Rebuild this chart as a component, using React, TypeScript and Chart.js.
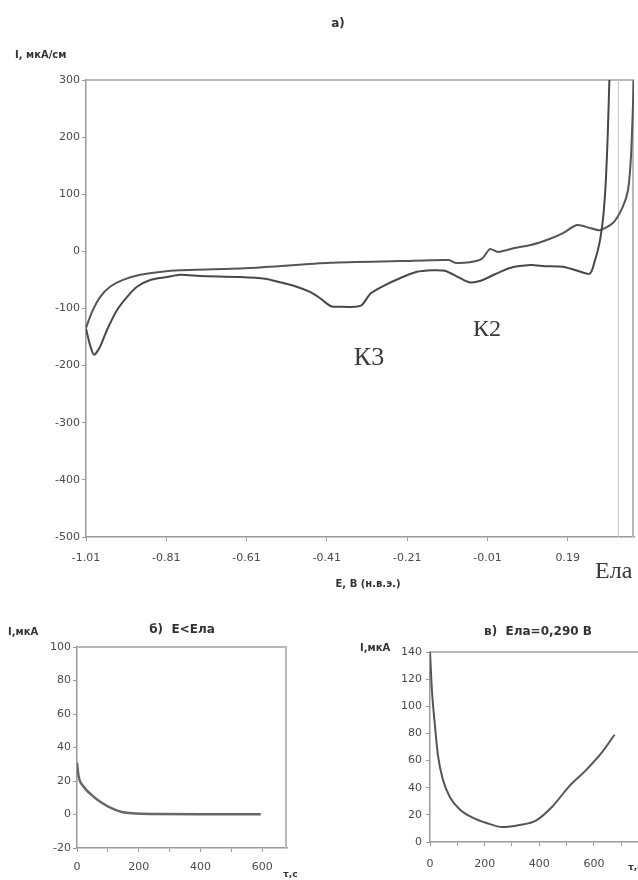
import React, { useEffect, useRef } from "react";
import { Chart, registerables } from "chart.js";

Chart.register(...registerables);

// ---------- Data: main CV chart (а) ----------
const E_TICKS = [-1.01, -0.81, -0.61, -0.41, -0.21, -0.01, 0.19];
const I_MIN = -500;
const I_MAX = 300;
const E_MIN = -1.01;
const E_MAX = 0.355;
const E_LA = 0.315;

// cathodic branch (with K2 and K3 peaks)
const LOWER_E = [0.295, 0.29, 0.285, 0.28, 0.275, 0.268, 0.258, 0.245, 0.21, 0.178, 0.133, 0.098, 0.046, 0.009, -0.029, -0.056, -0.083, -0.116, -0.146, -0.188, -0.228, -0.265, -0.3, -0.323, -0.34, -0.377, -0.4, -0.427, -0.452, -0.489, -0.527, -0.564, -0.626, -0.726, -0.776, -0.808, -0.85, -0.883, -0.908, -0.933, -0.958, -0.975, -0.99, -1.0, -1.01];
const LOWER_I = [335, 212, 125, 73, 41, 11, -15, -39, -33, -27, -26, -24, -29, -40, -52, -54, -45, -34, -33, -36, -47, -59, -73, -94, -97, -97, -96, -82, -71, -61, -54, -48, -45, -43, -41, -45, -50, -62, -80, -103, -138, -167, -181, -164, -135];

// anodic branch
const UPPER_E = [-1.01, -0.995, -0.975, -0.95, -0.918, -0.875, -0.826, -0.776, -0.601, -0.402, -0.228, -0.106, -0.091, -0.054, -0.024, -0.004, 0.016, 0.058, 0.098, 0.146, 0.178, 0.213, 0.245, 0.27, 0.303, 0.327, 0.34, 0.347, 0.352, 0.356];
const UPPER_I = [-134, -106, -80, -62, -50, -41, -36, -33, -29, -20, -17, -15, -20, -19, -13, 4, -1, 6, 11, 22, 32, 46, 41, 37, 50, 78, 107, 160, 247, 335];

// ---------- Data: chart б (E < Ела) ----------
const B_T = [0, 5, 20, 45, 80, 115, 153, 250, 400, 595];
const B_I = [31, 23, 17, 12, 7, 3.5, 1.2, 0.3, 0.2, 0.2];
const B_Y_MIN = -20;
const B_Y_MAX = 100;
const B_T_MAX = 680;

// ---------- Data: chart в (Ела = 0,290 В) ----------
const C_T = [0, 7, 18, 29, 47, 73, 109, 156, 207, 265, 327, 389, 447, 509, 571, 629, 675];
const C_I = [140, 112, 86, 64, 46, 33, 24, 18, 14, 11, 12.5, 16, 26, 41, 53, 66, 79];
const C_Y_MIN = 0;
const C_Y_MAX = 140;
const C_T_MAX = 761;

const TICK_FONT = { family: "DejaVu Sans", size: 11 };
const TICK_COLOR = "#4a4a4a";
const AXIS_COLOR = "#9a9a9a";
const FRAME_COLOR = "#b8b8b8";

type Txt = { text: string; x: number; y: number; font: string; align?: CanvasTextAlign; color?: string; baseline?: CanvasTextBaseline };

function makeDecor(id: string, texts: Txt[], frame: { top: boolean; right: boolean }, vline?: number) {
  return {
    id,
    beforeDatasetsDraw(chart: any) {
      const { ctx, chartArea } = chart;
      ctx.save();
      ctx.strokeStyle = FRAME_COLOR;
      ctx.lineWidth = 2;
      ctx.beginPath();
      if (frame.top) {
        ctx.moveTo(chartArea.left, chartArea.top);
        ctx.lineTo(chartArea.right, chartArea.top);
      }
      if (frame.right) {
        ctx.moveTo(chartArea.right - 1, chartArea.top);
        ctx.lineTo(chartArea.right - 1, chartArea.bottom);
      }
      ctx.stroke();
      if (vline !== undefined) {
        const x = chart.scales.x.getPixelForValue(vline);
        ctx.strokeStyle = "#c8c8c8";
        ctx.lineWidth = 1;
        ctx.beginPath();
        ctx.moveTo(Math.round(x) + 0.5, chartArea.top);
        ctx.lineTo(Math.round(x) + 0.5, chartArea.bottom);
        ctx.stroke();
      }
      ctx.restore();
    },
    afterDraw(chart: any) {
      const { ctx } = chart;
      ctx.save();
      for (const t of texts) {
        ctx.font = t.font;
        ctx.fillStyle = t.color || "#333";
        ctx.textAlign = t.align || "left";
        ctx.textBaseline = t.baseline || "middle";
        ctx.fillText(t.text, t.x, t.y);
      }
      ctx.restore();
    },
  };
}

function axisX(min: number, max: number, ticks: number[], height: number, padding: number, labelEvery: number | null, fmt: (v: number) => string) {
  return {
    type: "linear" as const,
    min,
    max,
    afterBuildTicks: (s: any) => {
      s.ticks = ticks.map((v) => ({ value: v }));
    },
    afterFit: (s: any) => {
      s.height = height;
    },
    ticks: {
      autoSkip: false,
      maxRotation: 0,
      font: TICK_FONT,
      color: TICK_COLOR,
      padding,
      callback: (v: any) => {
        const n = Number(v);
        if (labelEvery !== null && Math.round(n) % labelEvery !== 0) return "";
        return fmt(n);
      },
    },
    grid: { display: true, drawOnChartArea: false, drawTicks: true, tickLength: 4, color: AXIS_COLOR },
    border: { display: true, color: AXIS_COLOR, width: 1.5 },
  };
}

function axisY(min: number, max: number, step: number, width: number, padding: number) {
  return {
    type: "linear" as const,
    min,
    max,
    afterFit: (s: any) => {
      s.width = width;
    },
    ticks: { stepSize: step, autoSkip: false, font: TICK_FONT, color: TICK_COLOR, padding },
    grid: { display: true, drawOnChartArea: false, drawTicks: true, tickLength: 4, color: AXIS_COLOR },
    border: { display: true, color: AXIS_COLOR, width: 1.5 },
  };
}

function range(a: number, b: number, step: number) {
  const out: number[] = [];
  for (let v = a; v <= b + 1e-9; v += step) out.push(v);
  return out;
}

export default function App() {
  const mainRef = useRef<HTMLCanvasElement>(null);
  const bRef = useRef<HTMLCanvasElement>(null);
  const cRef = useRef<HTMLCanvasElement>(null);

  useEffect(() => {
    const common = {
      responsive: false,
      animation: false as const,
      devicePixelRatio: 1,
      plugins: { legend: { display: false }, tooltip: { enabled: false }, title: { display: false } },
      elements: { point: { radius: 0 } },
    };

    const main = new Chart(mainRef.current!, {
      type: "line",
      data: {
        datasets: [
          {
            data: LOWER_E.map((e, i) => ({ x: e, y: LOWER_I[i] })),
            borderColor: "#484848",
            borderWidth: 2,
            tension: 0.25,
            pointRadius: 0,
          },
          {
            data: UPPER_E.map((e, i) => ({ x: e, y: UPPER_I[i] })),
            borderColor: "#555555",
            borderWidth: 2,
            tension: 0.25,
            pointRadius: 0,
          },
        ],
      },
      options: {
        ...common,
        layout: { padding: { top: 80, right: 4, left: 0, bottom: 0 } },
        scales: {
          x: axisX(E_MIN, E_MAX, E_TICKS, 63, 11, null, (v) => v.toFixed(2)),
          y: axisY(I_MIN, I_MAX, 100, 86, 2),
        },
      } as any,
      plugins: [
        makeDecor(
          "decorMain",
          [
            { text: "а)", x: 338, y: 24, font: "bold 12px 'DejaVu Sans'", align: "center" },
            { text: "I, мкА/см", x: 15, y: 55, font: "bold 10px 'DejaVu Sans'" },
            { text: "E, В (н.в.э.)", x: 368, y: 584, font: "bold 10px 'DejaVu Sans'", align: "center" },
            { text: "К3", x: 369, y: 358, font: "26px 'Liberation Serif'", align: "center", color: "#3a3a3a" },
            { text: "К2", x: 487, y: 330, font: "24px 'Liberation Serif'", align: "center", color: "#3a3a3a" },
            { text: "Ела", x: 595, y: 578, font: "24px 'Liberation Serif'", baseline: "alphabetic", color: "#3a3a3a" },
          ],
          { top: true, right: true },
          E_LA
        ),
      ],
    });

    const b = new Chart(bRef.current!, {
      type: "line",
      data: {
        datasets: [
          {
            data: B_T.map((t, i) => ({ x: t, y: B_I[i] })),
            borderColor: "#666",
            borderWidth: 2.5,
            cubicInterpolationMode: "monotone",
            pointRadius: 0,
          },
        ],
      },
      options: {
        ...common,
        layout: { padding: { top: 47, right: 33, left: 0, bottom: 0 } },
        scales: {
          x: axisX(0, B_T_MAX, range(0, 600, 100), 32, 9, 200, (v) => String(v)),
          y: axisY(B_Y_MIN, B_Y_MAX, 20, 77, 2),
        },
      } as any,
      plugins: [
        makeDecor(
          "decorB",
          [
            { text: "I,мкА", x: 8, y: 32, font: "bold 10px 'DejaVu Sans'" },
            { text: "б)  E<Ела", x: 182, y: 30, font: "bold 12px 'DejaVu Sans'", align: "center" },
            { text: "τ,с", x: 283, y: 275, font: "bold 9px 'DejaVu Sans'" },
          ],
          { top: true, right: true }
        ),
      ],
    });

    const c = new Chart(cRef.current!, {
      type: "line",
      data: {
        datasets: [
          {
            data: C_T.map((t, i) => ({ x: t, y: C_I[i] })),
            borderColor: "#555",
            borderWidth: 2,
            cubicInterpolationMode: "monotone",
            pointRadius: 0,
          },
        ],
      },
      options: {
        ...common,
        layout: { padding: { top: 52, right: 0, left: 0, bottom: 0 } },
        scales: {
          x: axisX(0, C_T_MAX, range(0, 700, 100), 38, 12, 200, (v) => String(v)),
          y: axisY(C_Y_MIN, C_Y_MAX, 20, 110, 4),
        },
      } as any,
      plugins: [
        makeDecor(
          "decorC",
          [
            { text: "I,мкА", x: 40, y: 48, font: "bold 10px 'DejaVu Sans'" },
            { text: "в)  Ела=0,290 В", x: 218, y: 32, font: "bold 12px 'DejaVu Sans'", align: "center" },
            { text: "τ,с", x: 308, y: 268, font: "bold 9px 'DejaVu Sans'" },
          ],
          { top: true, right: false }
        ),
      ],
    });

    return () => {
      main.destroy();
      b.destroy();
      c.destroy();
    };
  }, []);

  return (
    <div style={{ position: "absolute", left: 0, top: 0, width: 638, height: 880, background: "#fff", overflow: "hidden" }}>
      <canvas ref={mainRef} width={638} height={600} style={{ position: "absolute", left: 0, top: 0 }} />
      <canvas ref={bRef} width={320} height={280} style={{ position: "absolute", left: 0, top: 600 }} />
      <canvas ref={cRef} width={318} height={280} style={{ position: "absolute", left: 320, top: 600 }} />
    </div>
  );
}
